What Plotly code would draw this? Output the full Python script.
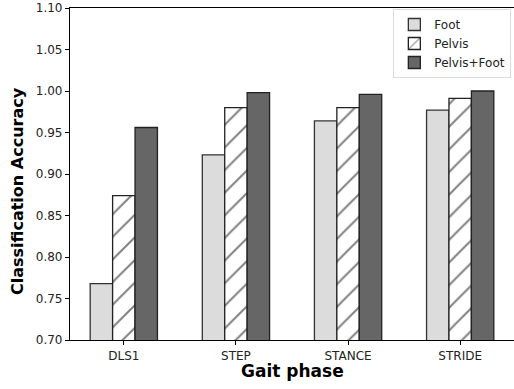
import plotly.graph_objects as go

categories = ["DLS1", "STEP", "STANCE", "STRIDE"]
foot = [0.768, 0.923, 0.964, 0.977]
pelvis = [0.874, 0.980, 0.980, 0.991]
pelvis_foot = [0.956, 0.998, 0.996, 1.000]
y_ticks = [0.70, 0.75, 0.80, 0.85, 0.90, 0.95, 1.00, 1.05, 1.10]

font_family = "DejaVu Sans"
fig = go.Figure()
fig.add_trace(go.Bar(name="Foot", x=categories, y=foot,
                     marker=dict(color="#dcdcdc", line=dict(color="#333333", width=1.3))))
fig.add_trace(go.Bar(name="Pelvis", x=categories, y=pelvis,
                     marker=dict(color="white", line=dict(color="#222222", width=1.3),
                                 pattern=dict(shape="/", fgcolor="black", bgcolor="white",
                                              size=16, solidity=0.12))))
fig.add_trace(go.Bar(name="Pelvis+Foot", x=categories, y=pelvis_foot,
                     marker=dict(color="#666666", line=dict(color="#222222", width=1.3))))

fig.update_layout(
    width=514, height=389,
    margin=dict(l=70, r=0, t=8, b=49, autoexpand=False),
    barmode="group", bargap=0.4, bargroupgap=0,
    plot_bgcolor="white", paper_bgcolor="white",
    font=dict(family=font_family, size=12, color="#222222"),
    showlegend=True,
    legend=dict(x=0.994, y=0.997, xanchor="right", yanchor="top",
                bgcolor="white", bordercolor="#dddddd", borderwidth=1,
                font=dict(size=12, family=font_family), tracegroupgap=0,
                itemwidth=30),
    annotations=[
        dict(text="<b>Gait phase</b>", xref="paper", yref="paper", x=0.5, y=-0.092,
             xanchor="center", yanchor="middle", showarrow=False,
             font=dict(size=17, family=font_family, color="black")),
        dict(text="<b>Classification Accuracy</b>", xref="paper", yref="paper", x=-0.117, y=0.449,
             xanchor="center", yanchor="middle", showarrow=False, textangle=-90,
             font=dict(size=16, family=font_family, color="black")),
    ],
)
fig.update_xaxes(
    range=[-0.48, 3.48], showline=True, linecolor="black", linewidth=1.2, mirror=True,
    ticks="outside", ticklen=4, tickcolor="black", showgrid=False, automargin=False,
    tickfont=dict(size=12, family=font_family),
)
fig.update_yaxes(
    range=[0.70, 1.10], tickvals=y_ticks, ticktext=[f"{v:.2f}" for v in y_ticks],
    showline=True, linecolor="black", linewidth=1.2, mirror=False, automargin=False,
    ticks="outside", ticklen=4, tickcolor="black", showgrid=False, zeroline=False,
    tickfont=dict(size=12, family=font_family),
)
fig.write_html("out.html", config={"displayModeBar": False},
               post_script="document.body.style.margin='0';document.body.style.padding='0';document.body.style.overflow='hidden';")
